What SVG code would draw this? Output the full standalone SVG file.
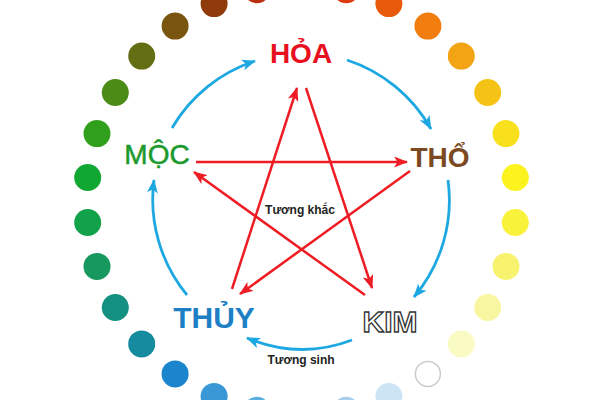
<svg xmlns="http://www.w3.org/2000/svg" width="600" height="400" viewBox="0 0 600 400">
<style>
.lbl{font-family:"Liberation Sans",Arial,sans-serif;text-anchor:middle}
.sm{font-family:"Liberation Sans",Arial,sans-serif;font-size:12px;font-weight:bold;fill:#222;text-anchor:middle}
.red{stroke:#ee1c24;stroke-width:2.5;fill:none;marker-end:url(#ra)}
.blue{stroke:#1ea8e2;stroke-width:2.8;fill:none;marker-end:url(#ba)}
</style>
<defs>
<marker id="ra" viewBox="0 0 14 11" refX="13" refY="5.5" markerWidth="14" markerHeight="11" markerUnits="userSpaceOnUse" orient="auto">
<path d="M0,0 L14,5.5 L0,11 L3.5,5.5 z" fill="#ee1c24"/>
</marker>
<marker id="ba" viewBox="0 0 14 11" refX="13" refY="5.5" markerWidth="14" markerHeight="11" markerUnits="userSpaceOnUse" orient="auto">
<path d="M0,0 L14,5.5 L0,11 L3.5,5.5 z" fill="#1ea8e2"/>
</marker>
</defs>
<rect width="600" height="400" fill="#fff"/>
<g id="dots">
<circle cx="301.5" cy="-15" r="13.5" fill="#d42a10"/>
<circle cx="346.2" cy="-10.3" r="13.5" fill="#dd3a0e"/>
<circle cx="388.9" cy="3.6" r="13.5" fill="#e8590c"/>
<circle cx="427.9" cy="26.1" r="13.5" fill="#f07d0e"/>
<circle cx="461.3" cy="56.1" r="13.5" fill="#f3a414"/>
<circle cx="487.7" cy="92.5" r="13.5" fill="#f5c316"/>
<circle cx="506" cy="133.6" r="13.5" fill="#f8e11c"/>
<circle cx="515.3" cy="177.5" r="13.5" fill="#fbf21e"/>
<circle cx="515.3" cy="222.5" r="13.5" fill="#f8f23a"/>
<circle cx="506" cy="266.4" r="13.5" fill="#f7f36e"/>
<circle cx="487.7" cy="307.5" r="13.5" fill="#f8f6a0"/>
<circle cx="461.3" cy="343.9" r="13.5" fill="#fafac4"/>
<circle cx="427.9" cy="373.9" r="12.5" fill="#fff" stroke="#cccccc" stroke-width="1.5"/>
<circle cx="388.9" cy="396.4" r="13.5" fill="#cde4f5"/>
<circle cx="346.2" cy="410.3" r="13.5" fill="#a8d0ee"/>
<circle cx="301.5" cy="415" r="13.5" fill="#7fbde8"/>
<circle cx="256.8" cy="410.3" r="13.5" fill="#5aaee0"/>
<circle cx="214.1" cy="396.4" r="13.5" fill="#3a98d6"/>
<circle cx="175.1" cy="373.9" r="13.5" fill="#1a84cc"/>
<circle cx="141.7" cy="343.9" r="13.5" fill="#168a9e"/>
<circle cx="115.3" cy="307.5" r="13.5" fill="#149080"/>
<circle cx="97" cy="266.4" r="13.5" fill="#17985e"/>
<circle cx="87.7" cy="222.5" r="13.5" fill="#12a24a"/>
<circle cx="87.7" cy="177.5" r="13.5" fill="#10a832"/>
<circle cx="97" cy="133.6" r="13.5" fill="#30a01c"/>
<circle cx="115.3" cy="92.5" r="13.5" fill="#4a8c16"/>
<circle cx="141.7" cy="56.1" r="13.5" fill="#636d12"/>
<circle cx="175.1" cy="26.1" r="13.5" fill="#7a5510"/>
<circle cx="214.1" cy="3.6" r="13.5" fill="#8f3b0c"/>
<circle cx="256.8" cy="-10.3" r="13.5" fill="#b8300e"/>
</g>
<g id="connectors">
<path class="blue" d="M172,128 A150,150 0 0 1 255,61"/>
<path class="blue" d="M347,60 A150,150 0 0 1 431,129"/>
<path class="blue" d="M448,180 A150,150 0 0 1 414,297"/>
<path class="blue" d="M352,340 Q300,360 247,338"/>
<path class="blue" d="M187,295 A150,150 0 0 1 154,180"/>
<line class="red" x1="196" y1="162" x2="407" y2="162"/>
<line class="red" x1="410" y1="171" x2="240" y2="294"/>
<line class="red" x1="232" y1="289" x2="297" y2="88"/>
<line class="red" x1="306" y1="88" x2="372" y2="288"/>
<line class="red" x1="365" y1="295" x2="194" y2="172"/>
</g>
<g id="hoa"><text class="lbl" x="301" y="63" font-size="28" font-weight="bold" fill="#e8101e">HỎA</text></g>
<g id="moc"><text class="lbl" x="157" y="164" font-size="28" fill="#1c9a2c" stroke="#1c9a2c" stroke-width="0.5">MỘC</text></g>
<g id="tho"><text class="lbl" x="440" y="167" font-size="28" font-weight="bold" fill="#7b4a22">THỔ</text></g>
<g id="thuy"><text class="lbl" x="214" y="328" font-size="30" font-weight="bold" fill="#1d7fc4">THỦY</text></g>
<g id="kim"><text class="lbl" x="390" y="332" font-size="30" font-weight="bold" fill="#fff" stroke="#333" stroke-width="1.3">KIM</text></g>
<g id="labels">
<text class="sm" x="300" y="214">Tương khắc</text>
<text class="sm" x="301" y="364">Tương sinh</text>
</g>
</svg>
